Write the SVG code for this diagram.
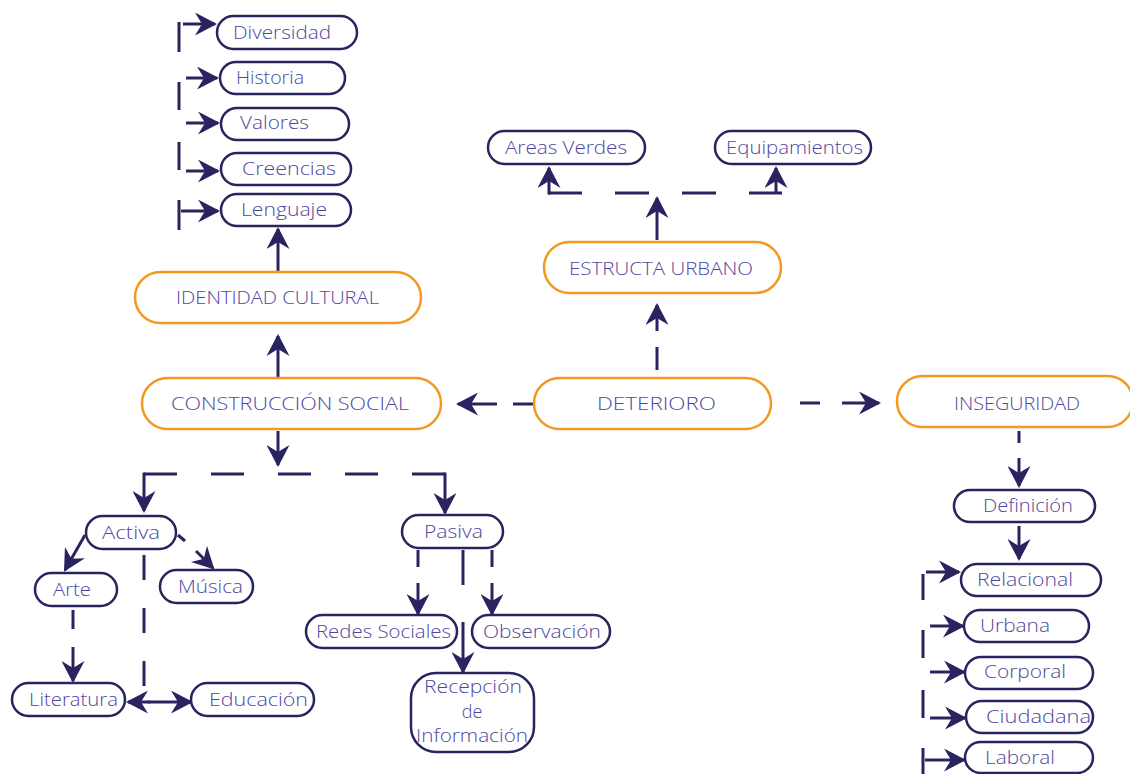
<svg xmlns="http://www.w3.org/2000/svg" width="1130" height="774" viewBox="0 0 1130 774">
<defs>
<marker id="ah" markerUnits="userSpaceOnUse" markerWidth="23" markerHeight="23" refX="20" refY="11.5" orient="auto-start-reverse" viewBox="0 0 23 23">
<path d="M0,0 L22,11.5 L0,23 L7,11.5 Z" fill="#29245f"/>
</marker>
<style>
.o{fill:#fff;stroke:#F39A1E;stroke-width:2.5}
.d{fill:#fff;stroke:#29245f;stroke-width:2.5}
.t{font-family:"Open Sans","Liberation Sans",sans-serif;font-size:18px;font-weight:300;fill:#4e479e}
.T{font-family:"Open Sans","Liberation Sans",sans-serif;font-size:19px;font-weight:300;fill:#4e479e}
.c{stroke:#29245f;stroke-width:3;fill:none}
.a{stroke:#29245f;stroke-width:3;fill:none;marker-end:url(#ah)}
</style>
</defs>
<rect width="1130" height="774" fill="#fff"/>
<g id="connectors">
<line class="c" x1="179" y1="22" x2="179" y2="52"/>
<line class="c" x1="179" y1="82" x2="179" y2="110"/>
<line class="c" x1="179" y1="142" x2="179" y2="170"/>
<line class="c" x1="179" y1="200" x2="179" y2="230"/>
<line class="a" x1="183" y1="24" x2="215" y2="24"/>
<line class="a" x1="186" y1="78" x2="217" y2="78"/>
<line class="a" x1="186" y1="123" x2="218" y2="123"/>
<line class="a" x1="186" y1="171" x2="218" y2="171"/>
<line class="a" x1="181" y1="211" x2="218" y2="211"/>
<line class="a" x1="278" y1="271" x2="278" y2="229"/>
<line class="a" x1="278" y1="377" x2="278" y2="336"/>
<line class="c" x1="513" y1="404" x2="534" y2="404"/>
<line class="a" x1="497" y1="404" x2="458" y2="404"/>
<line class="c" x1="657" y1="347" x2="657" y2="370"/>
<line class="a" x1="657" y1="331" x2="657" y2="305"/>
<line class="c" x1="800" y1="403" x2="820" y2="403"/>
<line class="a" x1="842" y1="403" x2="879" y2="403"/>
<line class="a" x1="657" y1="240" x2="657" y2="198"/>
<line class="c" x1="548" y1="193" x2="782" y2="193" stroke-dasharray="34 33"/>
<line class="a" x1="549" y1="194.5" x2="549" y2="168"/>
<line class="a" x1="776" y1="193" x2="776" y2="168"/>
<line class="a" x1="278" y1="431" x2="278" y2="465"/>
<line class="c" x1="144" y1="474" x2="445" y2="474" stroke-dasharray="33 34"/>
<line class="a" x1="144" y1="472.5" x2="144" y2="511"/>
<line class="a" x1="445" y1="472.5" x2="445" y2="513"/>
<line class="a" x1="85" y1="535" x2="65" y2="570"/>
<line class="c" x1="178" y1="535" x2="185" y2="541"/>
<line class="a" x1="196" y1="551" x2="213" y2="568"/>
<line class="c" x1="144" y1="555" x2="144" y2="688" stroke-dasharray="25 28"/>
<line class="a" x1="150" y1="702" x2="128" y2="702"/>
<line class="a" x1="148" y1="702" x2="191" y2="702"/>
<line class="c" x1="73" y1="610" x2="73" y2="629"/>
<line class="a" x1="73" y1="647" x2="73" y2="681"/>
<line class="c" x1="418" y1="550" x2="418" y2="567"/>
<line class="a" x1="418" y1="583" x2="418" y2="614"/>
<line class="c" x1="463" y1="550" x2="463" y2="585"/>
<line class="a" x1="463" y1="622" x2="463" y2="672"/>
<line class="c" x1="492" y1="550" x2="492" y2="567"/>
<line class="a" x1="492" y1="583" x2="492" y2="614"/>
<line class="c" x1="1019" y1="431" x2="1019" y2="443"/>
<line class="a" x1="1019" y1="458" x2="1019" y2="486"/>
<line class="a" x1="1019" y1="526" x2="1019" y2="559"/>
<line class="c" x1="923" y1="574" x2="923" y2="600"/>
<line class="c" x1="923" y1="630" x2="923" y2="658"/>
<line class="c" x1="923" y1="690" x2="923" y2="718"/>
<line class="c" x1="923" y1="748" x2="923" y2="774"/>
<line class="a" x1="926" y1="572" x2="959" y2="572"/>
<line class="a" x1="930" y1="626" x2="963" y2="626"/>
<line class="a" x1="930" y1="672" x2="964" y2="672"/>
<line class="a" x1="930" y1="718" x2="965" y2="718"/>
<line class="a" x1="925" y1="760" x2="964" y2="760"/>
</g>
<g id="identidad"><rect class="o" x="135" y="272" width="286" height="51" rx="25.5"/><text class="T" x="176" y="304" textLength="203" lengthAdjust="spacingAndGlyphs">IDENTIDAD CULTURAL</text></g>
<g id="construccion"><rect class="o" x="142" y="378" width="299" height="51" rx="25.5"/><text class="T" x="171" y="410" textLength="238" lengthAdjust="spacingAndGlyphs">CONSTRUCCIÓN SOCIAL</text></g>
<g id="deterioro"><rect class="o" x="534" y="378" width="237" height="51" rx="25.5"/><text class="T" x="597" y="410" textLength="119" lengthAdjust="spacingAndGlyphs">DETERIORO</text></g>
<g id="estructa"><rect class="o" x="544" y="242" width="237" height="51" rx="25.5"/><text class="T" x="569" y="275" textLength="184" lengthAdjust="spacingAndGlyphs">ESTRUCTA URBANO</text></g>
<g id="inseguridad"><rect class="o" x="897" y="376" width="236" height="51" rx="25.5"/><text class="T" x="954" y="410" textLength="126" lengthAdjust="spacingAndGlyphs">INSEGURIDAD</text></g>
<g id="diversidad"><rect class="d" x="217" y="16" width="140" height="33" rx="16.5"/><text class="t" x="233" y="39" textLength="98" lengthAdjust="spacingAndGlyphs">Diversidad</text></g>
<g id="historia"><rect class="d" x="220" y="62" width="125" height="32" rx="16"/><text class="t" x="236" y="84" textLength="68" lengthAdjust="spacingAndGlyphs">Historia</text></g>
<g id="valores"><rect class="d" x="221" y="108" width="128" height="32" rx="16"/><text class="t" x="240" y="129" textLength="69" lengthAdjust="spacingAndGlyphs">Valores</text></g>
<g id="creencias"><rect class="d" x="221" y="153" width="130" height="32" rx="16"/><text class="t" x="242" y="175" textLength="94" lengthAdjust="spacingAndGlyphs">Creencias</text></g>
<g id="lenguaje"><rect class="d" x="221" y="194" width="130" height="32" rx="16"/><text class="t" x="241" y="216" textLength="86" lengthAdjust="spacingAndGlyphs">Lenguaje</text></g>
<g id="areas"><rect class="d" x="488" y="131" width="157" height="33" rx="16.5"/><text class="t" x="505" y="154" textLength="122" lengthAdjust="spacingAndGlyphs">Areas Verdes</text></g>
<g id="equipamientos"><rect class="d" x="715" y="131" width="156" height="33" rx="16.5"/><text class="t" x="726" y="154" textLength="137" lengthAdjust="spacingAndGlyphs">Equipamientos</text></g>
<g id="activa"><rect class="d" x="86" y="516" width="90" height="33" rx="16.5"/><text class="t" x="102" y="539" textLength="58" lengthAdjust="spacingAndGlyphs">Activa</text></g>
<g id="arte"><rect class="d" x="35" y="573" width="82" height="33" rx="16.5"/><text class="t" x="53" y="596" textLength="38" lengthAdjust="spacingAndGlyphs">Arte</text></g>
<g id="musica"><rect class="d" x="160" y="570" width="93" height="33" rx="16.5"/><text class="t" x="178" y="593" textLength="65" lengthAdjust="spacingAndGlyphs">Música</text></g>
<g id="literatura"><rect class="d" x="12" y="683" width="113" height="33" rx="16.5"/><text class="t" x="29" y="706" textLength="89" lengthAdjust="spacingAndGlyphs">Literatura</text></g>
<g id="educacion"><rect class="d" x="191" y="683" width="123" height="33" rx="16.5"/><text class="t" x="209" y="706" textLength="99" lengthAdjust="spacingAndGlyphs">Educación</text></g>
<g id="pasiva"><rect class="d" x="402" y="515" width="101" height="33" rx="16.5"/><text class="t" x="424" y="538" textLength="59" lengthAdjust="spacingAndGlyphs">Pasiva</text></g>
<g id="redes"><rect class="d" x="306" y="615" width="151" height="33" rx="16.5"/><text class="t" x="316" y="638" textLength="135" lengthAdjust="spacingAndGlyphs">Redes Sociales</text></g>
<g id="observacion"><rect class="d" x="472" y="615" width="138" height="33" rx="16.5"/><text class="t" x="483" y="638" textLength="118" lengthAdjust="spacingAndGlyphs">Observación</text></g>
<g id="recepcion"><rect class="d" x="411" y="673" width="123" height="79" rx="25"/><text class="t" x="424" y="693" textLength="98" lengthAdjust="spacingAndGlyphs">Recepción</text><text class="t" x="472" y="718" text-anchor="middle">de</text><text class="t" x="416" y="742" textLength="112" lengthAdjust="spacingAndGlyphs">Información</text></g>
<g id="definicion"><rect class="d" x="954" y="490" width="141" height="32" rx="16"/><text class="t" x="983" y="512" textLength="90" lengthAdjust="spacingAndGlyphs">Definición</text></g>
<g id="relacional"><rect class="d" x="961" y="564" width="140" height="32" rx="16"/><text class="t" x="977" y="586" textLength="96" lengthAdjust="spacingAndGlyphs">Relacional</text></g>
<g id="urbana"><rect class="d" x="964" y="610" width="125" height="32" rx="16"/><text class="t" x="980" y="632" textLength="70" lengthAdjust="spacingAndGlyphs">Urbana</text></g>
<g id="corporal"><rect class="d" x="965" y="657" width="128" height="32" rx="16"/><text class="t" x="984" y="678" textLength="82" lengthAdjust="spacingAndGlyphs">Corporal</text></g>
<g id="ciudadana"><rect class="d" x="966" y="701" width="127" height="32" rx="16"/><text class="t" x="986" y="723" textLength="105" lengthAdjust="spacingAndGlyphs">Ciudadana</text></g>
<g id="laboral"><rect class="d" x="965" y="742" width="128" height="31" rx="15.5"/><text class="t" x="985" y="764" textLength="70" lengthAdjust="spacingAndGlyphs">Laboral</text></g>
</svg>
